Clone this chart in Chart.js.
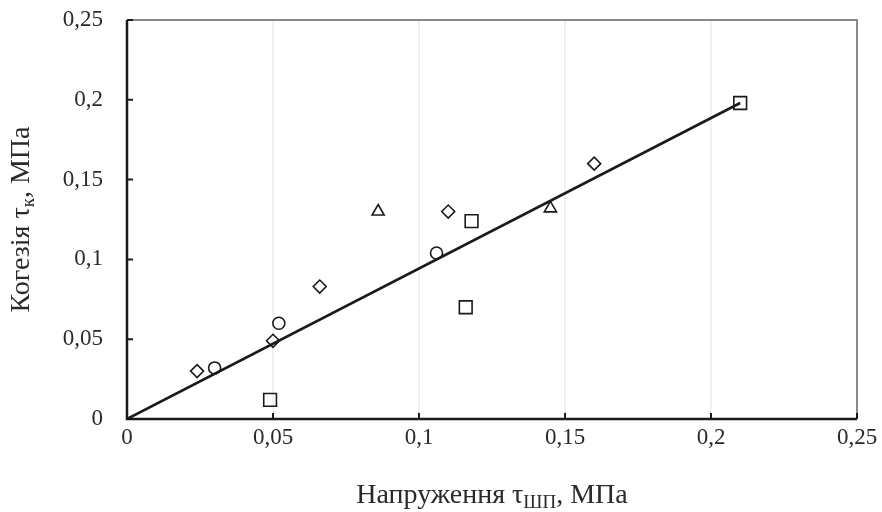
<!DOCTYPE html>
<html>
<head>
<meta charset="utf-8">
<script src="https://cdn.jsdelivr.net/npm/chart.js@4"></script>
<style>
html,body{margin:0;padding:0;background:#fff;}
#wrap{width:882px;height:512px;position:relative;}
</style>
</head>
<body>
<div id="wrap"><canvas id="c" width="882" height="512"></canvas></div>
<script>
// ---- data ----
const diamondX = [0.024, 0.05, 0.066, 0.11, 0.16];
const diamondY = [0.03, 0.049, 0.083, 0.13, 0.16];
const circleX = [0.03, 0.052, 0.106];
const circleY = [0.032, 0.06, 0.104];
const squareX = [0.049, 0.116, 0.118, 0.21];
const squareY = [0.012, 0.07, 0.124, 0.198];
const triangleX = [0.086, 0.145];
const triangleY = [0.13, 0.132];
const lineX = [0, 0.21];
const lineY = [0, 0.198];
const xTickValues = [0, 0.05, 0.1, 0.15, 0.2, 0.25];
const yTickValues = [0, 0.05, 0.1, 0.15, 0.2, 0.25];
const xTitleParts = ['Напруження τ', 'ШП', ', МПа'];
const yTitleParts = ['Когезія τ', 'к', ', МПа'];

const FONT = "'Liberation Serif', 'Times New Roman', serif";
const pts = (xs, ys) => xs.map((x, i) => ({x: x, y: ys[i]}));
const fmt = v => String(Math.round(v * 100) / 100).replace('.', ',');

const frame = {
  id: 'frame',
  beforeDatasetsDraw(chart) {
    const {ctx, chartArea: a} = chart;
    ctx.save();
    ctx.strokeStyle = '#8a8a8a';
    ctx.lineWidth = 2;
    ctx.beginPath();
    ctx.moveTo(a.left, a.top); ctx.lineTo(a.right, a.top); ctx.lineTo(a.right, a.bottom);
    ctx.stroke();
    ctx.restore();
  },
  afterDatasetsDraw(chart) {
    const {ctx, chartArea: a, scales} = chart;
    ctx.save();
    ctx.strokeStyle = '#1a1a1a';
    ctx.lineWidth = 2.5;
    ctx.beginPath();
    ctx.moveTo(a.left, a.top); ctx.lineTo(a.left, a.bottom); ctx.lineTo(a.right, a.bottom);
    ctx.stroke();
    ctx.lineWidth = 2;
    ctx.beginPath();
    yTickValues.forEach(v => { const y = scales.y.getPixelForValue(v); ctx.moveTo(a.left, y); ctx.lineTo(a.left + 6, y); });
    xTickValues.forEach(v => { const x = scales.x.getPixelForValue(v); ctx.moveTo(x, a.bottom); ctx.lineTo(x, a.bottom - 6); });
    ctx.stroke();
    // axis titles with subscripts
    const drawParts = (parts, cx, cy, rot) => {
      ctx.save();
      ctx.translate(cx, cy);
      ctx.rotate(rot);
      ctx.fillStyle = '#2a2a2a';
      ctx.textBaseline = 'middle';
      ctx.textAlign = 'left';
      const big = '28px ' + FONT, small = '19px ' + FONT;
      ctx.font = big; const w0 = ctx.measureText(parts[0]).width; const w2 = ctx.measureText(parts[2]).width;
      ctx.font = small; const w1 = ctx.measureText(parts[1]).width;
      let x = -(w0 + w1 + w2) / 2;
      ctx.font = big; ctx.fillText(parts[0], x, 0); x += w0;
      ctx.font = small; ctx.fillText(parts[1], x, 7); x += w1;
      ctx.font = big; ctx.fillText(parts[2], x, 0);
      ctx.restore();
    };
    drawParts(xTitleParts, (a.left + a.right) / 2, 496, 0);
    drawParts(yTitleParts, 22, (a.top + a.bottom) / 2, -Math.PI / 2);
    ctx.restore();
  }
};

const markerStyle = {borderColor: '#1a1a1a', backgroundColor: 'rgba(255,255,255,0)', borderWidth: 1.6, showLine: false};

new Chart(document.getElementById('c'), {
  type: 'scatter',
  data: {
    datasets: [
      Object.assign({label: 'ромби', data: pts(diamondX, diamondY), pointStyle: 'rectRot', pointRadius: 6.5}, markerStyle),
      Object.assign({label: 'кола', data: pts(circleX, circleY), pointStyle: 'circle', pointRadius: 6}, markerStyle),
      Object.assign({label: 'квадрати', data: pts(squareX, squareY), pointStyle: 'rect', pointRadius: 9}, markerStyle),
      Object.assign({label: 'трикутники', data: pts(triangleX, triangleY), pointStyle: 'triangle', pointRadius: 7}, markerStyle),
      {label: 'лінія', data: pts(lineX, lineY), showLine: true, borderColor: '#1a1a1a', borderWidth: 2.6, pointRadius: 0, fill: false}
    ]
  },
  options: {
    responsive: false,
    animation: false,
    devicePixelRatio: 1,
    layout: {padding: {top: 20, right: 25, left: 0, bottom: 0}},
    plugins: {legend: {display: false}, tooltip: {enabled: false}},
    scales: {
      x: {
        type: 'linear', min: 0, max: 0.25,
        afterBuildTicks: s => { s.ticks = xTickValues.map(v => ({value: v})); },
        afterFit: s => { s.height = 93; s.paddingLeft = 0; s.paddingRight = 0; },
        grid: {display: true, drawTicks: false, color: '#f1f1f1', lineWidth: 2},
        border: {display: false},
        ticks: {padding: 5, color: '#2a2a2a', font: {family: FONT, size: 23}, callback: v => fmt(v), maxRotation: 0, autoSkip: false}
      },
      y: {
        type: 'linear', min: 0, max: 0.25,
        afterBuildTicks: s => { s.ticks = yTickValues.map(v => ({value: v})); },
        afterFit: s => { s.width = 127; s.paddingTop = 0; s.paddingBottom = 0; },
        grid: {display: false, drawTicks: false},
        border: {display: false},
        ticks: {padding: 24, color: '#2a2a2a', font: {family: FONT, size: 23}, callback: v => fmt(v), autoSkip: false}
      }
    }
  },
  plugins: [frame]
});
</script>
</body>
</html>
